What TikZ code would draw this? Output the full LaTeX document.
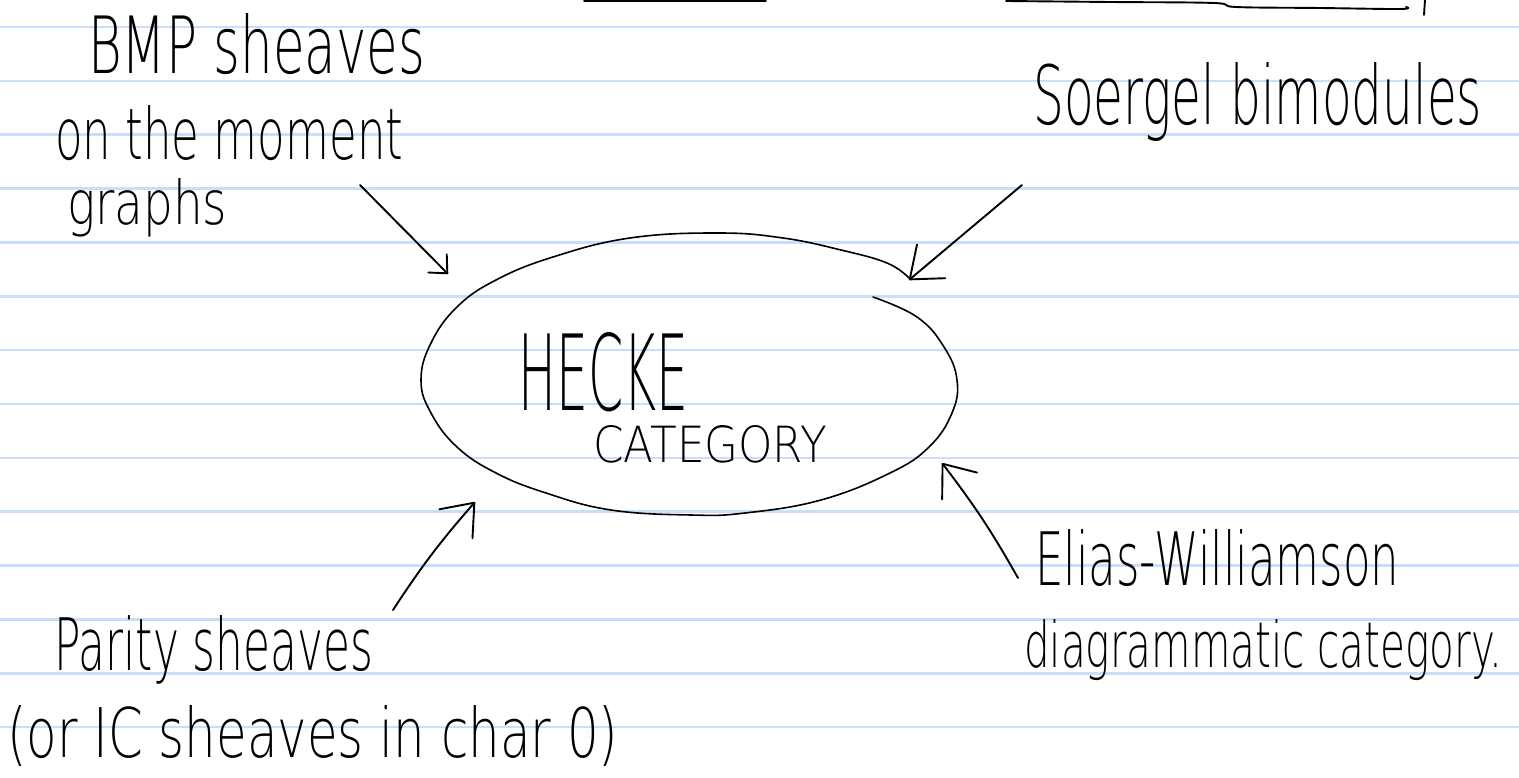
\documentclass[tikz,border=0pt]{standalone}
\usepackage{fontspec}
\newfontfamily\hand{DejaVu Sans ExtraLight}
\usetikzlibrary{arrows.meta,shapes.geometric}
\definecolor{ruleblue}{RGB}{200,222,250}
\newcommand{\hw}[3]{\resizebox{#1pt}{#2pt}{\hand #3}}
\begin{document}
\begin{tikzpicture}[x=1pt,y=-1pt,
  pen/.style={line width=1.9pt, line cap=round, line join=round},
  txt/.style={inner sep=0pt, anchor=base west},
  arr/.style={pen, -{Straight Barb[length=28pt,width=44pt,line width=1.9pt,line cap=round,line join=round]}},
  smallarr/.style={pen, -{Straight Barb[length=14pt,width=26pt,line width=1.9pt,line cap=round,line join=round]}},
  ruleline/.style={draw=ruleblue, line width=2.6pt},
]
\useasboundingbox (0,0) rectangle (1519,778);
\fill[white] (0,0) rectangle (1519,778);
% ruled paper
\foreach \k in {0,...,13} {
  \draw[ruleline] (0,{27+53.85*\k}) -- (1519,{27+53.85*\k});
}
% fragments at the top edge
\draw[pen] (584,0.8) -- (766,0.8);
\draw[pen] plot[smooth, tension=0.6] coordinates {(1006,1) (1110,2) (1214,3) (1236,7) (1320,8) (1400,9) (1406,7)};
\draw[pen] (1425,0) -- (1424,15);
% central ellipse
\node[ellipse, minimum width=536pt, minimum height=282pt, inner sep=0pt] (hecke) at (689,375) {};
\draw[pen, line width=1.6pt] plot[smooth, tension=0.7] coordinates {
 (873,297) (917,317) (944,347) (957,380) (952,413) (929,447) (890,473)
 (821,500) (745,513) (691,515) (611,510) (546,493) (496,473) (457,447)
 (431,413) (421,380) (431,343) (457,307) (496,280) (553,257) (630,238)
 (718,233) (783,238) (841,250) (887,263) (909,278)};
\node[txt] (hk1) at (518,410) {\hw{170}{78}{HECKE}};
\node[txt] (hk2) at (593,462) {\hw{234}{37}{CATEGORY}};
% labels
\node[txt] (bmp1) at (88,74) {\hw{337}{60}{BMP sheaves}};
\node[txt] (bmp2) at (55,160) {\hw{348}{54}{on the moment}};
\node[txt] (bmp3) at (67,225) {\hw{160}{46}{graphs}};
\node[txt] (sb) at (1033,125) {\hw{449}{62}{Soergel bimodules}};
\node[txt] (ps1) at (54,670) {\hw{319}{55}{Parity sheaves}};
\node[txt] (ps2) at (7,757) {\hw{611}{52}{(or IC sheaves in char 0)}};
\node[txt] (ew1) at (1035,585) {\hw{364}{56}{Elias-Williamson}};
\node[txt] (ew2) at (1024,667) {\hw{478}{48}{diagrammatic category.}};
% arrow ends
\coordinate (t1) at (360,185); \coordinate (h1) at (448,274);
\coordinate (t2) at (1022,185); \coordinate (h2) at (909,280);
\coordinate (t3) at (393,610); \coordinate (h3) at (475,502);
\coordinate (t4) at (1018,578); \coordinate (h4) at (942,463);
\draw[smallarr] (t1) -- (h1);
\draw[arr] (t2) -- (h2);
\draw[arr] (t3) to[bend left=4] (h3);
\draw[arr] (t4) to[bend right=4] (h4);
\end{tikzpicture}
\end{document}
